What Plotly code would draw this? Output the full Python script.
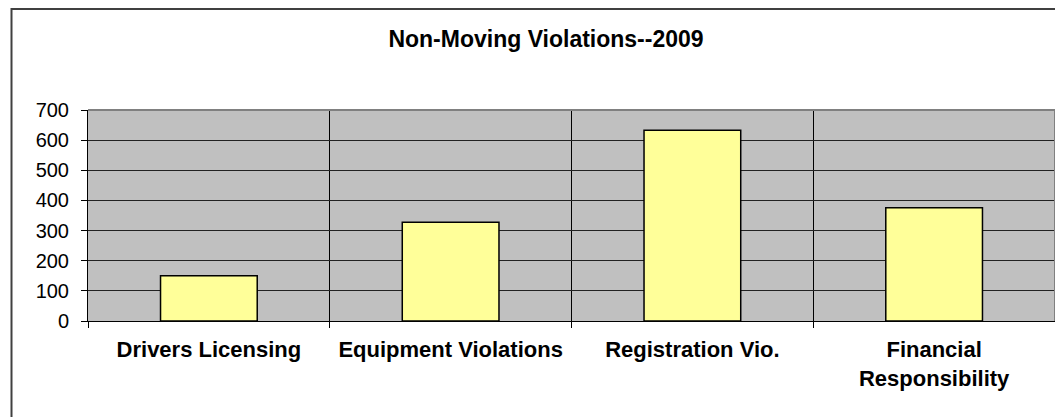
import plotly.graph_objects as go

categories = ["Drivers Licensing", "Equipment Violations", "Registration Vio.", "Financial Responsibility"]
tick_labels = ["Drivers Licensing", "Equipment Violations", "Registration Vio.", "Financial<br>Responsibility"]
values = [150, 328, 633, 376]
y_ticks = [0, 100, 200, 300, 400, 500, 600, 700]

FONT = "Liberation Sans, Arial, sans-serif"

fig = go.Figure(
    go.Bar(
        x=categories,
        y=values,
        marker=dict(color="#FFFF99", line=dict(color="black", width=1.5)),
        hoverinfo="x+y",
    )
)

W, H = 1063, 417
ml, mr, mt, mb = 80, 16, 102, 104
pw, ph = W - ml - mr, H - mt - mb

def px_x(px):
    return (px - ml) / pw

def px_y(py):
    return (H - mb - py) / ph

fig.update_layout(
    width=W,
    height=H,
    margin=dict(l=ml, r=mr, t=mt, b=mb, pad=0),
    paper_bgcolor="white",
    plot_bgcolor="#C0C0C0",
    bargap=0.6,
    showlegend=False,
    font=dict(family=FONT, color="black"),
    title=dict(
        text="<b>Non-Moving Violations--2009</b>",
        font=dict(family=FONT, size=23, color="black"),
        x=538 / W,
        xanchor="center",
        xref="container",
        y=1 - 31 / H,
        yanchor="middle",
        yref="container",
    ),
    xaxis=dict(
        type="category",
        categoryorder="array",
        categoryarray=categories,
        tickmode="array",
        tickvals=categories,
        ticktext=["<b>%s</b>" % t for t in tick_labels],
        tickson="boundaries",
        ticks="outside",
        ticklen=6,
        tickcolor="black",
        tickfont=dict(family=FONT, size=22, color="black"),
        ticklabelstandoff=9,
        showgrid=True,
        gridcolor="black",
        gridwidth=1,
        showline=True,
        linecolor="black",
        linewidth=1,
        zeroline=False,
        fixedrange=True,
    ),
    yaxis=dict(
        range=[0, 700],
        tickmode="array",
        tickvals=y_ticks,
        ticktext=[str(v) for v in y_ticks],
        ticks="outside",
        ticklen=6,
        tickcolor="black",
        tickfont=dict(family=FONT, size=20, color="black"),
        ticklabelstandoff=8,
        showgrid=True,
        gridcolor="#222222",
        gridwidth=1,
        showline=True,
        linecolor="black",
        linewidth=1,
        zeroline=False,
        fixedrange=True,
    ),
    shapes=[
        # outer chart border (extends past image on right/bottom)
        dict(type="rect", xref="paper", yref="paper",
             x0=px_x(3.5), x1=px_x(1075), y0=px_y(430), y1=px_y(1),
             line=dict(color="#404040", width=2), fillcolor="rgba(0,0,0,0)", layer="above"),
        # plot-area top and right gray borders
        dict(type="line", xref="paper", yref="paper", x0=0, x1=1, y0=1, y1=1,
             line=dict(color="#808080", width=2), layer="above"),
        dict(type="line", xref="paper", yref="paper", x0=1, x1=1, y0=0, y1=1,
             line=dict(color="#808080", width=2), layer="above"),
    ],
)

fig.write_html("out.html")
